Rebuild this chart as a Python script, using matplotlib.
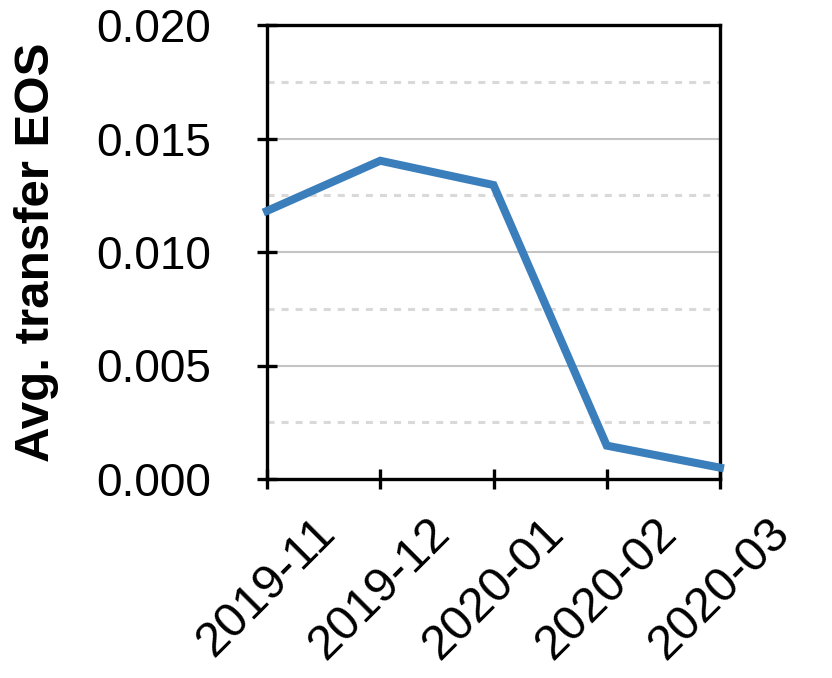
import matplotlib
matplotlib.use("Agg")
import matplotlib.pyplot as plt
from matplotlib.ticker import MultipleLocator

months = ["2019-11", "2019-12", "2020-01", "2020-02", "2020-03"]
avg_eos = [0.01181, 0.01402, 0.01295, 0.00147, 0.00050]
y_ticks = [0.000, 0.005, 0.010, 0.015, 0.020]

plt.rcParams['font.family'] = ['Liberation Sans', 'DejaVu Sans']

fig = plt.figure(figsize=(8.32, 6.78), dpi=100)
ax = fig.add_axes([267/832, 1-479/678, (720-267)/832, (479-25)/678])

x = list(range(len(months)))
ax.plot(x, avg_eos, color='#3a7ebc', lw=5.8, solid_joinstyle='miter', zorder=3, clip_on=False)

ax.set_xlim(0, len(months)-1)
ax.set_ylim(0, 0.020)
ax.set_yticks(y_ticks)
ax.set_yticklabels([f"{v:.3f}" for v in y_ticks])
ax.yaxis.set_minor_locator(MultipleLocator(0.0025))
ax.set_xticks(x)
ax.set_xticklabels(months, rotation=45, ha='center')

ax.grid(axis='y', which='major', color='#c4c4c4', lw=1.5, zorder=0)
ax.grid(axis='y', which='minor', color='#d9d9d9', lw=2.2, ls=(0, (2.3, 2.3)), zorder=0)
ax.tick_params(axis='y', which='minor', length=0)
ax.tick_params(axis='both', which='major', direction='inout', length=14, width=2.4, labelsize=33)
ax.tick_params(axis='x', pad=15, labelsize=35)
ax.tick_params(axis='y', pad=33)
for s in ax.spines.values():
    s.set_linewidth(2.4)

ax.set_ylabel("Avg. transfer EOS", fontsize=35.5, fontweight='bold')
ax.yaxis.set_label_coords(-0.46, 0.5)

fig.savefig("out.png", dpi=100)
